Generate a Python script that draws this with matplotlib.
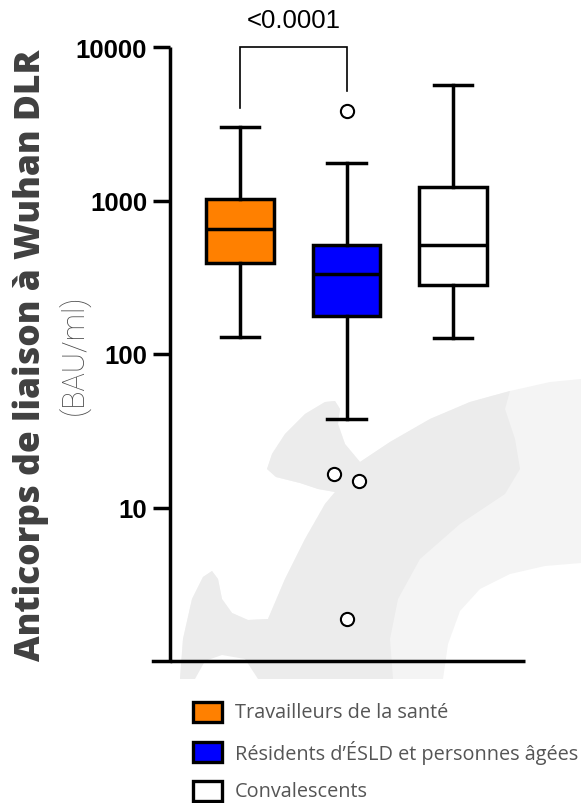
import matplotlib
matplotlib.use("Agg")
import matplotlib.pyplot as plt
from matplotlib.patches import Polygon, Rectangle
from matplotlib.lines import Line2D

# ---------------- data ----------------
categories = ["Travailleurs de la santé",
              "Résidents d\u2019ÉSLD et personnes âgées",
              "Convalescents"]
box_colors = ["#FF8000", "#0000FF", "#FFFFFF"]
whisker_low = [129, 37.8, 127]
q1_values = [392, 177, 281]
medians = [652, 332, 513]
q3_values = [1023, 513, 1224]
whisker_high = [3013, 1754, 5653]
outliers = [[], [3830, 16.5, 14.9, 1.88], []]
outlier_jitter = [[], [0.0, -0.12, 0.12, 0.0], []]
p_value_text = "<0.0001"
y_ticks = [10, 100, 1000, 10000]
y_tick_labels = ["10", "100", "1000", "10000"]
ylabel_main = "Anticorps de liaison à Wuhan DLR"
ylabel_unit = "(BAU/ml)"

W, H = 581, 804
fig = plt.figure(figsize=(W / 100, H / 100), dpi=100)
fig.patch.set_facecolor("white")

def fx(px):
    return px / W

def fy(py):
    return 1 - py / H

# ---------------- watermark background ----------------
bg = fig.add_axes([0, 0, 1, 1], zorder=-5)
bg.set_xlim(0, W)
bg.set_ylim(H, 0)
bg.axis("off")
outer = [(180, 680), (183, 640), (192, 600), (203, 578), (212, 572), (218, 580),
         (222, 600), (232, 614), (248, 621), (268, 620), (285, 580), (305, 540),
         (325, 505), (335, 493), (318, 490), (300, 484), (276, 478), (267, 470),
         (272, 455), (285, 435), (305, 415), (325, 403), (335, 402), (340, 410),
         (338, 425), (345, 445), (360, 463), (390, 443), (430, 420), (470, 403),
         (510, 392), (550, 383), (581, 380), (581, 564), (545, 567), (510, 575),
         (480, 590), (460, 612), (448, 645), (443, 680)]
bg.add_patch(Polygon(outer, closed=True, facecolor="#f4f4f4", edgecolor="none"))
dark = outer[:31] + [(505, 410), (515, 440), (520, 470), (505, 495), (460, 525),
                     (420, 560), (398, 600), (390, 640), (393, 680)]
bg.add_patch(Polygon(dark, closed=True, facecolor="#ececec", edgecolor="none"))
bg.add_patch(Polygon([(195, 680), (205, 662), (222, 656), (245, 660), (258, 680)],
                     closed=True, facecolor="white", edgecolor="none"))

# ---------------- main axes ----------------
ax = fig.add_axes([fx(170), fy(662), fx(525) - fx(170), fy(48) - fy(662)])
ax.set_facecolor("none")
ax.set_yscale("log")

lw = 2.5
positions = [1, 2, 3]
stats = []
for i in range(len(categories)):
    stats.append(dict(med=medians[i], q1=q1_values[i], q3=q3_values[i],
                      whislo=whisker_low[i], whishi=whisker_high[i], fliers=[]))
bp = ax.bxp(stats, positions=positions, widths=0.63, capwidths=0.36,
            patch_artist=True, showfliers=False,
            boxprops=dict(linewidth=lw, edgecolor="black"),
            medianprops=dict(color="black", linewidth=lw),
            whiskerprops=dict(color="black", linewidth=lw),
            capprops=dict(color="black", linewidth=lw))
for patch, c in zip(bp["boxes"], box_colors):
    patch.set_facecolor(c)

for i, (vals, jit) in enumerate(zip(outliers, outlier_jitter)):
    for v, j in zip(vals, jit):
        ax.plot(positions[i] + j, v, marker="o", markersize=9.5,
                markerfacecolor="white", markeredgecolor="black",
                markeredgewidth=1.5, linestyle="none", zorder=5, clip_on=False)

ax.set_xlim(0.3427, 3.676)
ax.set_ylim(1, 10000)
ax.set_xticks([])
ax.set_yticks(y_ticks)
ax.set_yticklabels(y_tick_labels)
ax.yaxis.set_minor_locator(matplotlib.ticker.NullLocator())
ax.tick_params(axis="y", length=12.5, width=lw, pad=4,
               labelsize=18.5)
for lab in ax.get_yticklabels():
    lab.set_fontfamily("Liberation Sans")
    lab.set_fontweight("bold")
for s in ["top", "right"]:
    ax.spines[s].set_visible(False)
for s in ["left", "bottom"]:
    ax.spines[s].set_linewidth(lw)
    ax.spines[s].set_capstyle("butt")
ax.add_line(Line2D([-17 / 355, 0], [0, 0], transform=ax.transAxes,
                   color="black", linewidth=lw, clip_on=False))

# significance bracket
ax.plot([positions[0], positions[0], positions[1], positions[1]],
        [4010, 10000, 10000, 5165], color="black", linewidth=1.2,
        clip_on=False, solid_joinstyle="miter")
ax.annotate(p_value_text, xy=((positions[0] + positions[1]) / 2, 10000),
            xytext=(0, 27), textcoords="offset pixels", ha="center",
            va="center", fontsize=18.5, family="Liberation Sans")

# y labels
fig.text(fx(31), fy(355), ylabel_main, rotation=90, ha="center", va="center",
         fontsize=25.5, fontweight="heavy", family="Open Sans", color="#404040")
fig.text(fx(74), fy(355), ylabel_unit, rotation=90, ha="center", va="center",
         fontsize=22, fontweight="light", family="Roboto", color="#4a4a4a")

# legend
row_y = [713, 753, 792]
for cat, c, yy in zip(categories, box_colors, row_y):
    fig.patches.append(Rectangle((fx(193), fy(yy + 10)), fx(29), fy(yy - 10) - fy(yy + 10),
                                 transform=fig.transFigure, facecolor=c,
                                 edgecolor="black", linewidth=2.4))
    fig.text(fx(235), fy(yy), cat, ha="left", va="center", fontsize=14.3,
             family="Open Sans", color="#555555")

fig.savefig("out.png", dpi=100)
